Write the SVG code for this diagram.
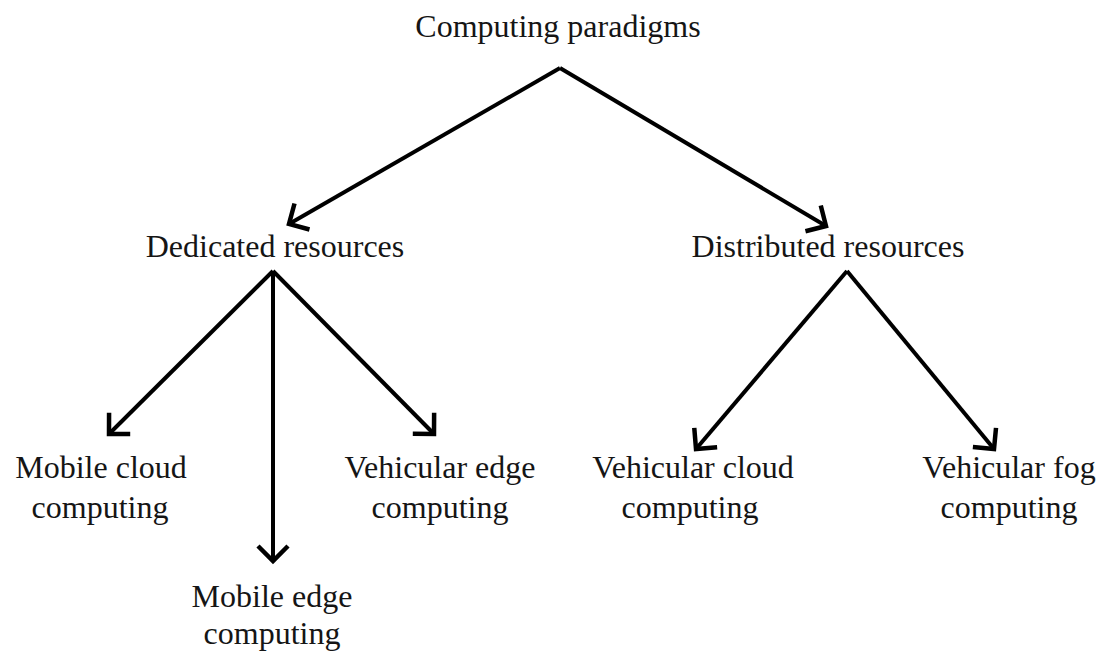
<svg xmlns="http://www.w3.org/2000/svg" width="1100" height="653" viewBox="0 0 1100 653">
  <style>
    .lbl { font-family: "Liberation Serif", "Times New Roman", serif; font-size: 32px; fill: #151515; text-anchor: middle; }
    .edge { stroke: #000; stroke-width: 4; fill: none; marker-end: url(#arrow); }
  </style>
  <defs>
    <marker id="arrow" markerUnits="userSpaceOnUse" markerWidth="40" markerHeight="40" viewBox="-20 -20 40 40" refX="0" refY="0" orient="auto" overflow="visible">
      <path d="M -15 -15 L 0 0 L -15 15" stroke="#000" stroke-width="4.5" fill="none" stroke-linejoin="miter"/>
    </marker>
  </defs>
  <rect x="0" y="0" width="1100" height="653" fill="#fff"/>

  <g id="connectors">
    <line class="edge" x1="560" y1="68" x2="289" y2="224"/>
    <line class="edge" x1="560" y1="68" x2="826" y2="226"/>
    <line class="edge" x1="273" y1="271" x2="109" y2="434"/>
    <line class="edge" x1="273" y1="271" x2="273" y2="561"/>
    <line class="edge" x1="273" y1="271" x2="434" y2="434"/>
    <line class="edge" x1="847" y1="271" x2="696" y2="449"/>
    <line class="edge" x1="847" y1="271" x2="994" y2="449"/>
  </g>

  <g id="node-root">
    <text class="lbl" x="558" y="37">Computing paradigms</text>
  </g>
  <g id="node-dedicated">
    <text class="lbl" x="275" y="257">Dedicated resources</text>
  </g>
  <g id="node-distributed">
    <text class="lbl" x="828" y="257">Distributed resources</text>
  </g>
  <g id="node-mcc">
    <text class="lbl" x="101" y="478">Mobile cloud</text>
    <text class="lbl" x="100" y="518">computing</text>
  </g>
  <g id="node-mec">
    <text class="lbl" x="272" y="607">Mobile edge</text>
    <text class="lbl" x="272" y="644">computing</text>
  </g>
  <g id="node-vec">
    <text class="lbl" x="440" y="478">Vehicular edge</text>
    <text class="lbl" x="440" y="518">computing</text>
  </g>
  <g id="node-vcc">
    <text class="lbl" x="693" y="478">Vehicular cloud</text>
    <text class="lbl" x="690" y="518">computing</text>
  </g>
  <g id="node-vfc">
    <text class="lbl" x="1009" y="478">Vehicular fog</text>
    <text class="lbl" x="1009" y="518">computing</text>
  </g>
</svg>
